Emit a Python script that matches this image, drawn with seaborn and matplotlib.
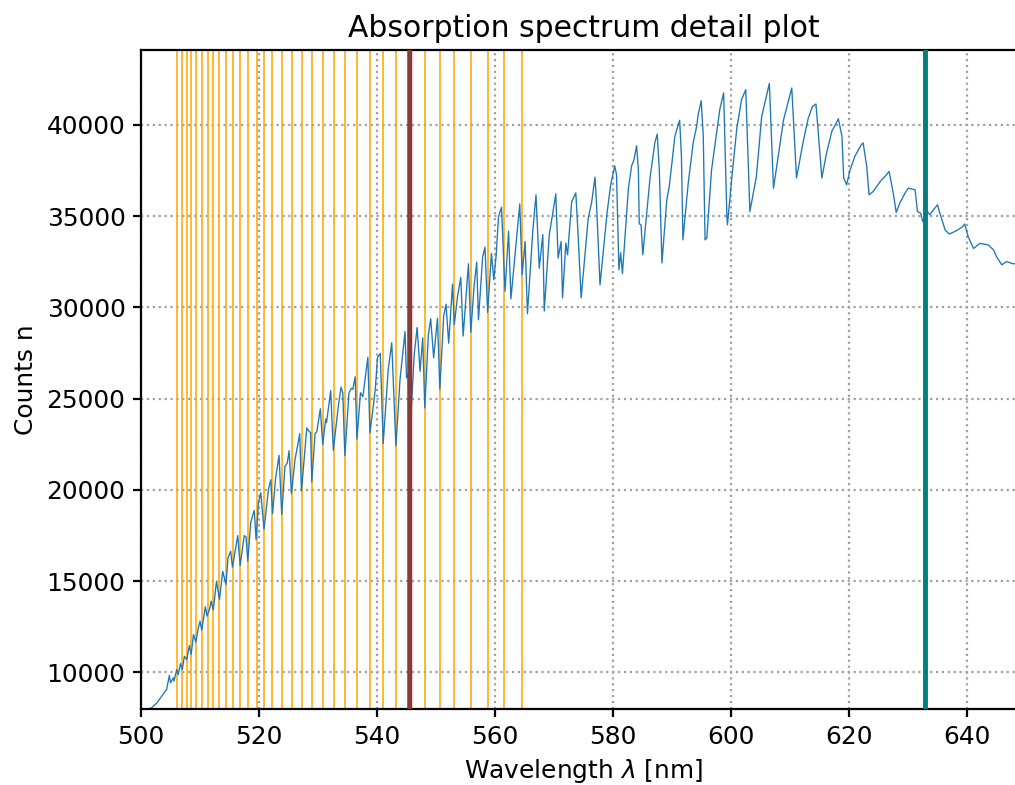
import numpy as np
import pandas as pd
import matplotlib
matplotlib.use("Agg")
import matplotlib.pyplot as plt
import seaborn as sns

# Spectrum samples (wavelength in nm, counts)
wavelength_nm = [
    501.3, 501.8, 502.7, 503.5, 504.35, 504.8, 505.0, 505.5, 505.6, 506.05,
    506.3, 506.7, 507.0, 507.35, 507.75, 508.2, 508.5, 508.9, 509.3, 509.7,
    510.0, 510.3, 510.9, 511.2, 511.6, 511.9, 512.25, 512.8, 513.3, 513.85,
    514.4, 514.75, 515.2, 515.5, 516.4, 516.8, 517.5, 517.8, 518.1, 518.6,
    519.2, 519.5, 519.9, 520.3, 520.85, 521.6, 522.0, 522.3, 522.8, 523.4,
    523.85, 524.4, 524.8, 525.1, 525.5, 526.1, 526.7, 526.9, 527.2, 528.1,
    528.5, 528.75, 528.95, 529.5, 529.8, 530.4, 530.8, 531.3, 531.45, 532.15,
    532.6, 533.4, 533.9, 534.2, 534.55, 535.25, 535.65, 535.9, 536.3, 536.6,
    537.2, 537.6, 538.45, 538.8, 539.3, 539.7, 540.1, 540.55, 541.05, 541.9,
    542.5, 543.2, 543.9, 544.75, 545.0, 545.3, 545.65, 546.3, 546.8, 547.3,
    547.75, 548.1, 548.7, 549.1, 549.6, 550.25, 550.65, 551.3, 551.7, 552.15,
    552.8, 553.1, 553.65, 554.2, 554.6, 555.25, 555.5, 555.9, 556.45, 556.9,
    557.2, 557.9, 558.3, 558.75, 559.4, 559.8, 560.2, 560.6, 561.1, 561.7,
    562.3, 562.7, 563.4, 564.2, 564.6, 565.1, 565.5, 566.4, 566.95, 567.5,
    568.1, 568.35, 569.2, 569.8, 570.3, 570.7, 571.2, 571.45, 572.0, 572.3,
    573.0, 573.7, 574.1, 574.6, 575.8, 576.4, 576.95, 577.2, 577.8, 579.0,
    579.6, 580.3, 580.6, 581.0, 581.3, 581.6, 582.6, 583.15, 583.55, 584.0,
    584.3, 584.45, 584.75, 585.05, 585.6, 586.3, 587.1, 587.5, 587.85, 588.3,
    589.1, 589.55, 590.5, 591.3, 591.6, 591.85, 592.75, 593.6, 594.2, 594.45,
    594.95, 595.3, 595.6, 595.9, 596.7, 597.6, 598.1, 598.75, 599.3, 599.4,
    600.1, 601.0, 601.8, 602.5, 603.2, 604.3, 605.2, 606.5, 607.2, 608.0,
    608.9, 610.3, 611.1, 612.3, 613.1, 613.8, 614.4, 615.1, 615.4, 616.2,
    617.1, 618.2, 618.8, 619.1, 619.6, 620.2, 621.0, 622.1, 622.4, 623.0,
    623.4, 624.1, 625.3, 626.1, 626.8, 627.5, 628.0, 628.6, 629.5, 630.05,
    631.2, 631.6, 632.15, 632.5, 633.3, 633.7, 634.3, 635.0, 635.4, 636.3,
    637.0, 638.2, 639.25, 639.6, 640.2, 641.1, 642.2, 643.6, 644.5, 645.0,
    645.9, 646.7, 647.8, 648.5, 649.3, 650.0,
]
counts = [
    8000, 8070, 8340, 8700, 9070, 9840, 9440, 9710, 9530, 10160,
    9890, 10490, 10160, 10890, 10710, 11480, 10990, 12080, 11660, 12430,
    12810, 12320, 13600, 13090, 13450, 13910, 13420, 15000, 14000, 15540,
    14820, 16280, 16640, 15770, 17500, 15860, 17500, 17430, 16100, 18230,
    18880, 17280, 19290, 19840, 17850, 20020, 20560, 18700, 20600, 21900,
    18650, 21290, 21480, 22150, 19800, 21660, 22700, 23080, 19950, 23400,
    23200, 23140, 20440, 23080, 23200, 24450, 22480, 23880, 23690, 25440,
    22170, 24480, 25630, 25330, 21880, 25330, 25570, 25510, 26200, 22790,
    25330, 25110, 27270, 23120, 24400, 25490, 27270, 27480, 22540, 26590,
    28060, 22410, 26040, 28680, 26140, 26390, 23360, 27400, 28900, 26500,
    28330, 24490, 28470, 29380, 27240, 29400, 25520, 29510, 30180, 28040,
    31270, 29050, 30600, 31640, 28430, 31300, 32390, 28640, 31150, 32480,
    29320, 32750, 33300, 29720, 32960, 31510, 32880, 34980, 35490, 30880,
    34170, 30470, 32880, 35670, 31790, 33610, 29650, 34170, 36160, 32150,
    33990, 29800, 33990, 35180, 36220, 32700, 33610, 30520, 33520, 32880,
    35800, 36270, 33880, 30520, 34880, 35800, 37130, 35710, 31240, 35200,
    36700, 37750, 37260, 32060, 33000, 31850, 36480, 37750, 38080, 38850,
    37530, 34580, 34520, 32880, 34750, 37160, 39040, 39490, 37530, 32430,
    35840, 36660, 39400, 40250, 38270, 33700, 36800, 39040, 39950, 40590,
    41320, 39380, 33700, 33800, 37530, 39670, 40840, 41750, 34980, 34520,
    36990, 39850, 41390, 41930, 35250, 37160, 40450, 42270, 36530, 38270,
    40270, 42020, 37090, 39180, 40370, 41000, 41140, 38270, 37090, 38460,
    39650, 40330, 39380, 37090, 36720, 37550, 38280, 38920, 39010, 37730,
    36170, 36350, 36900, 37170, 37450, 36260, 35200, 35710, 36260, 36530,
    36440, 35250, 35160, 34700, 35250, 35070, 35340, 35620, 35160, 34240,
    34020, 34200, 34420, 34570, 33870, 33230, 33510, 33420, 33150, 32780,
    32330, 32510, 32390, 32400, 32350, 32300,
]

# Marker line positions (nm)
absorption_lines_nm = [
    506.15, 507.0, 507.75, 508.47, 509.32, 510.34, 511.3, 512.25, 513.27,
    514.36, 515.54, 516.78, 518.19, 519.66, 520.9, 522.25, 523.85, 525.54,
    527.24, 529.03, 530.85, 532.7, 534.58, 536.6, 538.8, 541.07, 543.2,
    548.14, 550.6, 553.1, 555.9, 558.8, 561.6, 564.6,
]
reference_gray_nm = 545.5
reference_red_nm = 545.56
laser_line_nm = 632.8

x_ticks = [500, 520, 540, 560, 580, 600, 620, 640]
y_ticks = [10000, 15000, 20000, 25000, 30000, 35000, 40000]

sns.set_style("ticks")
plt.rcParams["font.family"] = ["DejaVu Sans"]
plt.rcParams["text.color"] = "black"
plt.rcParams["axes.labelcolor"] = "black"

df = pd.DataFrame({"wavelength": wavelength_nm, "counts": counts})

fig = plt.figure(figsize=(1015 / 160, 785 / 160), dpi=160)
# axes extends slightly past the right edge of the canvas (as in the reference)
ax = fig.add_axes([141 / 1015, 1 - 709 / 785, (1026 - 141) / 1015, (709 - 50) / 785])

for wl in absorption_lines_nm:
    ax.axvline(wl, color="orange", lw=0.7, zorder=1)

sns.lineplot(data=df, x="wavelength", y="counts", ax=ax, color="#1f77b4",
             lw=0.6, estimator=None, sort=False, zorder=2)

ax.axvline(reference_red_nm, color="red", lw=2.0, zorder=3)
ax.axvline(reference_gray_nm, color="#555555", alpha=0.72, lw=1.8, zorder=4)
ax.axvline(laser_line_nm, color="teal", lw=2.2, zorder=3)

ax.set_xlim(500, 650)
ax.set_ylim(8000, 44100)
ax.set_xticks(x_ticks)
ax.set_yticks(y_ticks)
ax.grid(True, linestyle=":", color="#a0a0a0", lw=1.0, zorder=0)
ax.set_axisbelow(True)
for s in ax.spines.values():
    s.set_color("black")
    s.set_linewidth(1.0)
ax.tick_params(direction="out", length=3.5, width=1, colors="black", labelsize=11.2)

ax.set_xlabel(r"Wavelength $\lambda$ [nm]", fontsize=11.2, color="black")
ax.set_ylabel("Counts n", fontsize=11.2, color="black")
ax.set_title("Absorption spectrum detail plot", fontsize=13.4, color="black")

fig.savefig("out.png", dpi=160)
